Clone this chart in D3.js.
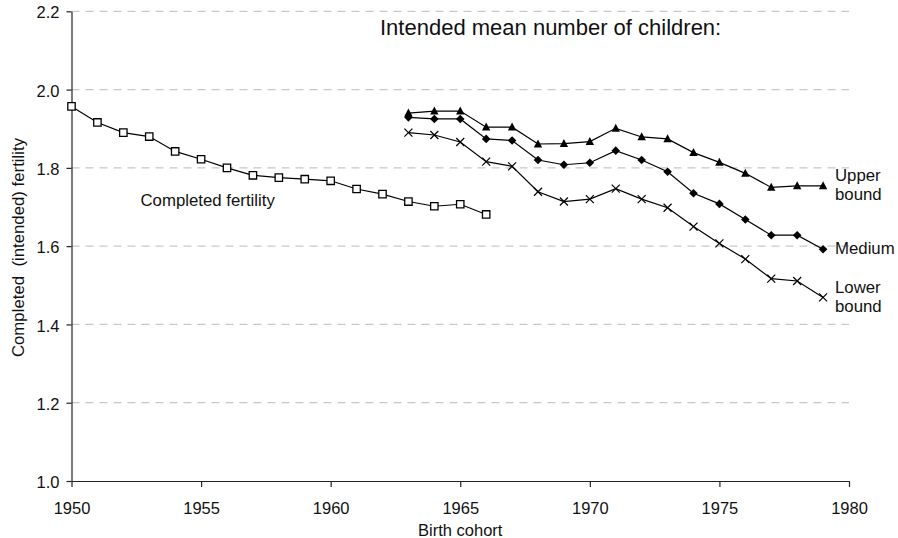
<!DOCTYPE html>
<html>
<head>
<meta charset="utf-8">
<script src="https://cdn.jsdelivr.net/npm/d3@7"></script>
<style>
  html, body { margin: 0; padding: 0; background: #fff; }
  svg { display: block; font-family: "Liberation Sans", Arial, sans-serif; }
</style>
</head>
<body>
<svg id="chart" width="898" height="538"></svg>
<script>
// ---- data ----
const completedYears = [1950,1951,1952,1953,1954,1955,1956,1957,1958,1959,1960,1961,1962,1963,1964,1965,1966];
const completedFertility = [1.957,1.916,1.890,1.880,1.842,1.822,1.800,1.781,1.775,1.771,1.767,1.746,1.733,1.714,1.702,1.707,1.681];

const intendedYears = [1963,1964,1965,1966,1967,1968,1969,1970,1971,1972,1973,1974,1975,1976,1977,1978,1979];
const upperBound = [1.940,1.945,1.945,1.904,1.904,1.861,1.862,1.867,1.901,1.879,1.874,1.839,1.814,1.786,1.750,1.754,1.754];
const medium     = [1.929,1.925,1.925,1.874,1.870,1.820,1.808,1.813,1.844,1.820,1.790,1.735,1.708,1.668,1.628,1.628,1.592];
const lowerBound = [1.890,1.884,1.866,1.816,1.804,1.739,1.714,1.720,1.747,1.720,1.698,1.650,1.607,1.567,1.517,1.511,1.469];

const xTicks = [1950,1955,1960,1965,1970,1975,1980];
const yTicks = [1.0,1.2,1.4,1.6,1.8,2.0,2.2];

// ---- scales ----
const svg = d3.select("#chart");
const x = d3.scaleLinear().domain([1950,1980]).range([71.5, 849]);
const y = d3.scaleLinear().domain([1.0,2.2]).range([481, 11.3]);

// grid
svg.append("g").selectAll("line").data(yTicks.filter(d => d > 1.0)).join("line")
  .attr("x1", x(1950)).attr("x2", x(1980))
  .attr("y1", d => y(d)).attr("y2", d => y(d))
  .attr("stroke", "#c8c8c8").attr("stroke-width", 1.2)
  .attr("stroke-dasharray", "8,6");

// axes
const fmt = d3.format(".1f");
const yAxis = svg.append("g").attr("transform", `translate(${x(1950)},0)`)
  .call(d3.axisLeft(y).tickValues(yTicks).tickFormat(fmt).tickSize(5).tickSizeOuter(0));
const xAxis = svg.append("g").attr("transform", `translate(0,${y(1.0)})`)
  .call(d3.axisBottom(x).tickValues(xTicks).tickFormat(d3.format("d")).tickSize(6).tickSizeOuter(0));
[xAxis, yAxis].forEach(a => {
  a.select(".domain").attr("stroke", "#222").attr("stroke-width", 1.2);
  a.selectAll(".tick line").attr("stroke", "#222").attr("stroke-width", 1.2);
  a.selectAll("text").attr("font-size", 16.5).attr("fill", "#111")
    .attr("font-family", "'Liberation Sans', Arial, sans-serif");
});
yAxis.selectAll("text").attr("x", -12).attr("dy", "0.4em");
xAxis.selectAll("text").attr("y", 21);

// axis titles
svg.append("text").attr("x", (x(1950)+x(1980))/2).attr("y", 535.5)
  .attr("text-anchor", "middle").attr("font-size", 16.5).attr("fill", "#111")
  .text("Birth cohort");
svg.append("text")
  .attr("transform", `translate(24,${(138+357)/2}) rotate(-90)`)
  .attr("text-anchor", "middle").attr("font-size", 16.8).attr("fill", "#111")
  .attr("xml:space", "preserve").style("white-space", "pre")
  .text("Completed  (intended) fertility");

// lines
const line = d3.line().x(d => x(d[0])).y(d => y(d[1]));
function series(years, vals) { return years.map((yr, i) => [yr, vals[i]]); }
const sets = [
  {data: series(completedYears, completedFertility), marker: "square"},
  {data: series(intendedYears, upperBound), marker: "triangle"},
  {data: series(intendedYears, medium), marker: "diamond"},
  {data: series(intendedYears, lowerBound), marker: "cross"}
];
sets.forEach(s => {
  svg.append("path").datum(s.data).attr("d", line)
    .attr("fill", "none").attr("stroke", "#000").attr("stroke-width", 1.2);
});

// markers
const g = svg.append("g");
sets.forEach(s => {
  const sel = g.selectAll(null).data(s.data).join("path")
    .attr("transform", d => `translate(${x(d[0])},${y(d[1])})`);
  if (s.marker === "square") {
    sel.attr("d", "M-3.7,-3.7H3.7V3.7H-3.7Z").attr("fill", "#fff").attr("stroke", "#000").attr("stroke-width", 1.3);
  } else if (s.marker === "triangle") {
    sel.attr("d", "M0,-4.6L4.2,3.4H-4.2Z").attr("fill", "#000");
  } else if (s.marker === "diamond") {
    sel.attr("d", "M0,-4.3L4.3,0L0,4.3L-4.3,0Z").attr("fill", "#000");
  } else {
    sel.attr("d", "M-4,-4L4,4M-4,4L4,-4").attr("fill", "none").attr("stroke", "#000").attr("stroke-width", 1.2);
  }
});

// annotations
svg.append("text").attr("x", 380).attr("y", 35).attr("font-size", 22).attr("fill", "#111")
  .text("Intended mean number of children:");
svg.append("text").attr("x", 140.5).attr("y", 206).attr("font-size", 16.8).attr("fill", "#111")
  .text("Completed fertility");
const right = [
  {t: "Upper", y: 181}, {t: "bound", y: 199.5},
  {t: "Medium", y: 254},
  {t: "Lower", y: 293}, {t: "bound", y: 311.5}
];
svg.append("g").selectAll("text").data(right).join("text")
  .attr("x", 835).attr("y", d => d.y).attr("font-size", 16.8).attr("fill", "#111")
  .text(d => d.t);
</script>
</body>
</html>
